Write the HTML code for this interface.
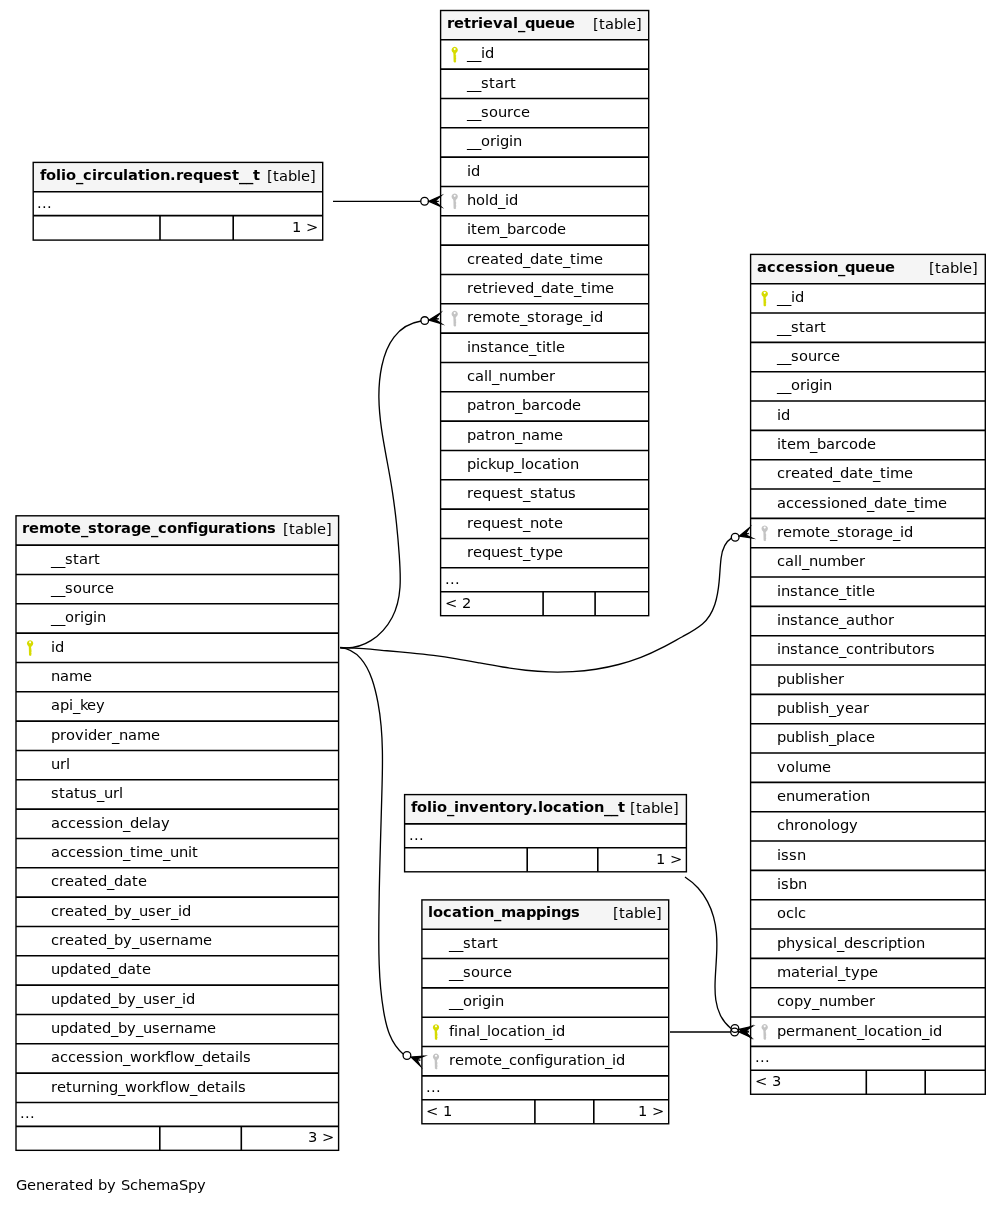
<!DOCTYPE html>
<html><head><meta charset="utf-8"><title>SchemaSpy diagram</title>
<style>
html,body{margin:0;padding:0;background:#fff}
svg{display:block;will-change:transform}
text{font-family:"DejaVu Sans","Liberation Sans",sans-serif;font-size:14.67px;fill:#000}
.b{font-weight:bold}
.e{text-anchor:end}
.sep{stroke:#000;stroke-width:1.6;fill:none}
.frame{stroke:#000;stroke-width:1.4;fill:none}
.edge{stroke:#000;stroke-width:1.33;fill:none}
</style></head><body>
<svg width="1001" height="1205" viewBox="0 0 1001 1205">
<rect width="1001" height="1205" fill="#fff"/>
<g class="tbl">
<rect x="440.6" y="10.5" width="208.1" height="605.19" fill="#fff" stroke="none"/>
<rect x="440.6" y="10.5" width="208.1" height="29.3" fill="#f5f5f5" stroke="none"/>
<path d="M440.6,39.8H648.7M440.6,69.13H648.7M440.6,98.47H648.7M440.6,127.8H648.7M440.6,157.13H648.7M440.6,186.46H648.7M440.6,215.8H648.7M440.6,245.13H648.7M440.6,274.46H648.7M440.6,303.8H648.7M440.6,333.13H648.7M440.6,362.46H648.7M440.6,391.8H648.7M440.6,421.13H648.7M440.6,450.46H648.7M440.6,479.8H648.7M440.6,509.13H648.7M440.6,538.46H648.7M440.6,567.79H648.7M440.6,591.69H648.7" class="sep"/>
<path d="M543.1,591.69V615.69M595.1,591.69V615.69" class="sep"/>
<rect x="440.6" y="10.5" width="208.1" height="605.19" class="frame"/>
<text x="447 454 464 471 478 483 493 503 513 518 525 535 545 555 565" y="27.9" class="b">retrieval<tspan dy="1">_</tspan><tspan dy="-1">queue</tspan></text>
<text x="593 599 605 614 623 627 636" y="28.9">[table]</text>
<g transform="translate(454.7,54.57)" fill="#d6db00"><path fill-rule="evenodd" d="M0,-7.7 a3.15,3.15 0 1,0 0.01,0 Z M0,-6.6 a1,1 0 1,1 -0.01,0 Z"/><path d="M-1.6,-2.2 L1.5,-2.2 L1.0,-0.6 L1.0,0.6 L1.7,1.1 L1.0,1.8 L1.7,2.5 L1.0,3.2 L1.7,3.9 L1.0,4.7 L1.7,5.5 L1.0,6.2 L1.5,7.1 L0.3,8.1 L-1.1,7.3 L-1.3,-0.6 Z"/></g>
<text x="467 474 481 485" y="58.3"><tspan dy="1">__</tspan><tspan dy="-1">id</tspan></text>
<text x="467 474 481 489 495 504 510" y="87.63"><tspan dy="1">__</tspan><tspan dy="-1">start</tspan></text>
<text x="467 474 481 489 498 507 513 521" y="116.97"><tspan dy="1">__</tspan><tspan dy="-1">source</tspan></text>
<text x="467 474 481 490 496 500 509 513" y="146.3"><tspan dy="1">__</tspan><tspan dy="-1">origin</tspan></text>
<text x="467 471" y="175.63">id</text>
<g transform="translate(454.7,201.23)" fill="#c4c4c4"><path fill-rule="evenodd" d="M0,-7.7 a3.15,3.15 0 1,0 0.01,0 Z M0,-6.6 a1,1 0 1,1 -0.01,0 Z"/><path d="M-1.6,-2.2 L1.5,-2.2 L1.0,-0.6 L1.0,0.6 L1.7,1.1 L1.0,1.8 L1.7,2.5 L1.0,3.2 L1.7,3.9 L1.0,4.7 L1.7,5.5 L1.0,6.2 L1.5,7.1 L0.3,8.1 L-1.1,7.3 L-1.3,-0.6 Z"/></g>
<text x="467 476 485 489 498 505 509" y="204.96">hold<tspan dy="1">_</tspan><tspan dy="-1">id</tspan></text>
<text x="467 471 477 486 500 507 516 525 531 539 548 557" y="234.3">item<tspan dy="1">_</tspan><tspan dy="-1">barcode</tspan></text>
<text x="467 475 481 490 499 505 514 523 530 539 548 554 563 570 576 580 594" y="263.63">created<tspan dy="1">_</tspan><tspan dy="-1">date</tspan><tspan dy="1">_</tspan><tspan dy="-1">time</tspan></text>
<text x="467 473 482 488 494 498 507 516 525 534 541 550 559 565 574 581 587 591 605" y="292.96">retrieved<tspan dy="1">_</tspan><tspan dy="-1">date</tspan><tspan dy="1">_</tspan><tspan dy="-1">time</tspan></text>
<g transform="translate(454.7,318.56)" fill="#c4c4c4"><path fill-rule="evenodd" d="M0,-7.7 a3.15,3.15 0 1,0 0.01,0 Z M0,-6.6 a1,1 0 1,1 -0.01,0 Z"/><path d="M-1.6,-2.2 L1.5,-2.2 L1.0,-0.6 L1.0,0.6 L1.7,1.1 L1.0,1.8 L1.7,2.5 L1.0,3.2 L1.7,3.9 L1.0,4.7 L1.7,5.5 L1.0,6.2 L1.5,7.1 L0.3,8.1 L-1.1,7.3 L-1.3,-0.6 Z"/></g>
<text x="467 473 482 496 505 511 520 527 535 541 550 556 565 574 583 590 594" y="322.3">remote<tspan dy="1">_</tspan><tspan dy="-1">storage</tspan><tspan dy="1">_</tspan><tspan dy="-1">id</tspan></text>
<text x="467 471 480 488 494 503 512 520 529 536 542 546 552 556" y="351.63">instance<tspan dy="1">_</tspan><tspan dy="-1">title</tspan></text>
<text x="467 475 484 488 492 499 508 517 531 540 549" y="380.96">call<tspan dy="1">_</tspan><tspan dy="-1">number</tspan></text>
<text x="467 476 485 491 497 506 515 522 531 540 546 554 563 572" y="410.3">patron<tspan dy="1">_</tspan><tspan dy="-1">barcode</tspan></text>
<text x="467 476 485 491 497 506 515 522 531 540 554" y="439.63">patron<tspan dy="1">_</tspan><tspan dy="-1">name</tspan></text>
<text x="467 476 480 488 496 505 514 521 525 534 542 551 557 561 570" y="468.96">pickup<tspan dy="1">_</tspan><tspan dy="-1">location</tspan></text>
<text x="467 473 482 491 500 509 517 523 530 538 544 553 559 568" y="498.3">request<tspan dy="1">_</tspan><tspan dy="-1">status</tspan></text>
<text x="467 473 482 491 500 509 517 523 530 539 548 554" y="527.63">request<tspan dy="1">_</tspan><tspan dy="-1">note</tspan></text>
<text x="467 473 482 491 500 509 517 523 530 536 545 554" y="556.96">request<tspan dy="1">_</tspan><tspan dy="-1">type</tspan></text>
<text x="445 450 455" y="583.79">...</text>
<text x="445 457 462" y="607.79">&lt; 2</text>
</g>
<g class="tbl">
<rect x="33.2" y="162.4" width="289.5" height="77.7" fill="#fff" stroke="none"/>
<rect x="33.2" y="162.4" width="289.5" height="29.3" fill="#f5f5f5" stroke="none"/>
<path d="M33.2,191.7H322.7M33.2,215.6H322.7" class="sep"/>
<path d="M160,215.6V240.1M233.2,215.6V240.1" class="sep"/>
<rect x="33.2" y="162.4" width="289.5" height="77.7" class="frame"/>
<text x="40 46 56 61 66 76 83 92 97 104 113 123 128 138 145 150 160 170 176 183 193 203 213 223 232 239 246 253" y="179.8" class="b">folio<tspan dy="1">_</tspan><tspan dy="-1">circulation.request</tspan><tspan dy="1">__</tspan><tspan dy="-1">t</tspan></text>
<text x="267 273 279 288 297 301 310" y="180.8">[table]</text>
<text x="37 42 47" y="207.7">...</text>
<text x="292 301 306" y="232.2">1 &gt;</text>
</g>
<g class="tbl">
<rect x="16" y="515.8" width="322.6" height="634.53" fill="#fff" stroke="none"/>
<rect x="16" y="515.8" width="322.6" height="29.3" fill="#f5f5f5" stroke="none"/>
<path d="M16,545.1H338.6M16,574.43H338.6M16,603.77H338.6M16,633.1H338.6M16,662.43H338.6M16,691.76H338.6M16,721.1H338.6M16,750.43H338.6M16,779.76H338.6M16,809.1H338.6M16,838.43H338.6M16,867.76H338.6M16,897.1H338.6M16,926.43H338.6M16,955.76H338.6M16,985.09H338.6M16,1014.43H338.6M16,1043.76H338.6M16,1073.09H338.6M16,1102.43H338.6M16,1126.33H338.6" class="sep"/>
<path d="M159.8,1126.33V1150.33M241.3,1126.33V1150.33" class="sep"/>
<rect x="16" y="515.8" width="322.6" height="634.53" class="frame"/>
<text x="22 29 39 54 64 71 81 88 97 104 114 121 131 141 151 158 167 177 187 193 198 208 218 225 235 242 247 257 267" y="533.2" class="b">remote<tspan dy="1">_</tspan><tspan dy="-1">storage</tspan><tspan dy="1">_</tspan><tspan dy="-1">configurations</tspan></text>
<text x="283 289 295 304 313 317 326" y="534.2">[table]</text>
<text x="51 58 65 73 79 88 94" y="563.6"><tspan dy="1">__</tspan><tspan dy="-1">start</tspan></text>
<text x="51 58 65 73 82 91 97 105" y="592.93"><tspan dy="1">__</tspan><tspan dy="-1">source</tspan></text>
<text x="51 58 65 74 80 84 93 97" y="622.27"><tspan dy="1">__</tspan><tspan dy="-1">origin</tspan></text>
<g transform="translate(30.1,647.87)" fill="#d6db00"><path fill-rule="evenodd" d="M0,-7.7 a3.15,3.15 0 1,0 0.01,0 Z M0,-6.6 a1,1 0 1,1 -0.01,0 Z"/><path d="M-1.6,-2.2 L1.5,-2.2 L1.0,-0.6 L1.0,0.6 L1.7,1.1 L1.0,1.8 L1.7,2.5 L1.0,3.2 L1.7,3.9 L1.0,4.7 L1.7,5.5 L1.0,6.2 L1.5,7.1 L0.3,8.1 L-1.1,7.3 L-1.3,-0.6 Z"/></g>
<text x="51 55" y="651.6">id</text>
<text x="51 60 69 83" y="680.93">name</text>
<text x="51 60 69 73 80 87 96" y="710.26">api<tspan dy="1">_</tspan><tspan dy="-1">key</tspan></text>
<text x="51 60 66 75 84 88 97 106 112 119 128 137 151" y="739.6">provider<tspan dy="1">_</tspan><tspan dy="-1">name</tspan></text>
<text x="51 60 66" y="768.93">url</text>
<text x="51 59 65 74 80 89 97 104 113 119" y="798.26">status<tspan dy="1">_</tspan><tspan dy="-1">url</tspan></text>
<text x="51 60 68 76 85 93 101 105 114 123 130 139 148 152 161" y="827.6">accession<tspan dy="1">_</tspan><tspan dy="-1">delay</tspan></text>
<text x="51 60 68 76 85 93 101 105 114 123 130 136 140 154 163 170 179 188 192" y="856.93">accession<tspan dy="1">_</tspan><tspan dy="-1">time</tspan><tspan dy="1">_</tspan><tspan dy="-1">unit</tspan></text>
<text x="51 59 65 74 83 89 98 107 114 123 132 138" y="886.26">created<tspan dy="1">_</tspan><tspan dy="-1">date</tspan></text>
<text x="51 59 65 74 83 89 98 107 114 123 132 139 148 156 165 171 178 182" y="915.6">created<tspan dy="1">_</tspan><tspan dy="-1">by</tspan><tspan dy="1">_</tspan><tspan dy="-1">user</tspan><tspan dy="1">_</tspan><tspan dy="-1">id</tspan></text>
<text x="51 59 65 74 83 89 98 107 114 123 132 139 148 156 165 171 180 189 203" y="944.93">created<tspan dy="1">_</tspan><tspan dy="-1">by</tspan><tspan dy="1">_</tspan><tspan dy="-1">username</tspan></text>
<text x="51 60 69 78 87 93 102 111 118 127 136 142" y="974.26">updated<tspan dy="1">_</tspan><tspan dy="-1">date</tspan></text>
<text x="51 60 69 78 87 93 102 111 118 127 136 143 152 160 169 175 182 186" y="1003.59">updated<tspan dy="1">_</tspan><tspan dy="-1">by</tspan><tspan dy="1">_</tspan><tspan dy="-1">user</tspan><tspan dy="1">_</tspan><tspan dy="-1">id</tspan></text>
<text x="51 60 69 78 87 93 102 111 118 127 136 143 152 160 169 175 184 193 207" y="1032.93">updated<tspan dy="1">_</tspan><tspan dy="-1">by</tspan><tspan dy="1">_</tspan><tspan dy="-1">username</tspan></text>
<text x="51 60 68 76 85 93 101 105 114 123 130 142 151 157 165 170 174 183 195 202 211 220 226 235 239 243" y="1062.26">accession<tspan dy="1">_</tspan><tspan dy="-1">workflow</tspan><tspan dy="1">_</tspan><tspan dy="-1">details</tspan></text>
<text x="51 57 66 72 81 87 96 100 109 118 125 137 146 152 160 165 169 178 190 197 206 215 221 230 234 238" y="1091.59">returning<tspan dy="1">_</tspan><tspan dy="-1">workflow</tspan><tspan dy="1">_</tspan><tspan dy="-1">details</tspan></text>
<text x="20 25 30" y="1118.43">...</text>
<text x="308 317 322" y="1142.43">3 &gt;</text>
</g>
<g class="tbl">
<rect x="750.6" y="254.4" width="234.7" height="839.86" fill="#fff" stroke="none"/>
<rect x="750.6" y="254.4" width="234.7" height="29.3" fill="#f5f5f5" stroke="none"/>
<path d="M750.6,283.7H985.3M750.6,313.03H985.3M750.6,342.37H985.3M750.6,371.7H985.3M750.6,401.03H985.3M750.6,430.37H985.3M750.6,459.7H985.3M750.6,489.03H985.3M750.6,518.36H985.3M750.6,547.7H985.3M750.6,577.03H985.3M750.6,606.36H985.3M750.6,635.7H985.3M750.6,665.03H985.3M750.6,694.36H985.3M750.6,723.69H985.3M750.6,753.03H985.3M750.6,782.36H985.3M750.6,811.69H985.3M750.6,841.03H985.3M750.6,870.36H985.3M750.6,899.69H985.3M750.6,929.03H985.3M750.6,958.36H985.3M750.6,987.69H985.3M750.6,1017.02H985.3M750.6,1046.36H985.3M750.6,1070.26H985.3" class="sep"/>
<path d="M866.3,1070.26V1094.26M925.2,1070.26V1094.26" class="sep"/>
<rect x="750.6" y="254.4" width="234.7" height="839.86" class="frame"/>
<text x="757 767 776 785 795 804 813 818 828 838 845 855 865 875 885" y="271.8" class="b">accession<tspan dy="1">_</tspan><tspan dy="-1">queue</tspan></text>
<text x="929 935 941 950 959 963 972" y="272.8">[table]</text>
<g transform="translate(764.7,298.47)" fill="#d6db00"><path fill-rule="evenodd" d="M0,-7.7 a3.15,3.15 0 1,0 0.01,0 Z M0,-6.6 a1,1 0 1,1 -0.01,0 Z"/><path d="M-1.6,-2.2 L1.5,-2.2 L1.0,-0.6 L1.0,0.6 L1.7,1.1 L1.0,1.8 L1.7,2.5 L1.0,3.2 L1.7,3.9 L1.0,4.7 L1.7,5.5 L1.0,6.2 L1.5,7.1 L0.3,8.1 L-1.1,7.3 L-1.3,-0.6 Z"/></g>
<text x="777 784 791 795" y="302.2"><tspan dy="1">__</tspan><tspan dy="-1">id</tspan></text>
<text x="777 784 791 799 805 814 820" y="331.53"><tspan dy="1">__</tspan><tspan dy="-1">start</tspan></text>
<text x="777 784 791 799 808 817 823 831" y="360.87"><tspan dy="1">__</tspan><tspan dy="-1">source</tspan></text>
<text x="777 784 791 800 806 810 819 823" y="390.2"><tspan dy="1">__</tspan><tspan dy="-1">origin</tspan></text>
<text x="777 781" y="419.53">id</text>
<text x="777 781 787 796 810 817 826 835 841 849 858 867" y="448.87">item<tspan dy="1">_</tspan><tspan dy="-1">barcode</tspan></text>
<text x="777 785 791 800 809 815 824 833 840 849 858 864 873 880 886 890 904" y="478.2">created<tspan dy="1">_</tspan><tspan dy="-1">date</tspan><tspan dy="1">_</tspan><tspan dy="-1">time</tspan></text>
<text x="777 786 794 802 811 819 827 831 840 849 858 867 874 883 892 898 907 914 920 924 938" y="507.53">accessioned<tspan dy="1">_</tspan><tspan dy="-1">date</tspan><tspan dy="1">_</tspan><tspan dy="-1">time</tspan></text>
<g transform="translate(764.7,533.13)" fill="#c4c4c4"><path fill-rule="evenodd" d="M0,-7.7 a3.15,3.15 0 1,0 0.01,0 Z M0,-6.6 a1,1 0 1,1 -0.01,0 Z"/><path d="M-1.6,-2.2 L1.5,-2.2 L1.0,-0.6 L1.0,0.6 L1.7,1.1 L1.0,1.8 L1.7,2.5 L1.0,3.2 L1.7,3.9 L1.0,4.7 L1.7,5.5 L1.0,6.2 L1.5,7.1 L0.3,8.1 L-1.1,7.3 L-1.3,-0.6 Z"/></g>
<text x="777 783 792 806 815 821 830 837 845 851 860 866 875 884 893 900 904" y="536.86">remote<tspan dy="1">_</tspan><tspan dy="-1">storage</tspan><tspan dy="1">_</tspan><tspan dy="-1">id</tspan></text>
<text x="777 785 794 798 802 809 818 827 841 850 859" y="566.2">call<tspan dy="1">_</tspan><tspan dy="-1">number</tspan></text>
<text x="777 781 790 798 804 813 822 830 839 846 852 856 862 866" y="595.53">instance<tspan dy="1">_</tspan><tspan dy="-1">title</tspan></text>
<text x="777 781 790 798 804 813 822 830 839 846 855 864 870 879 888" y="624.86">instance<tspan dy="1">_</tspan><tspan dy="-1">author</tspan></text>
<text x="777 781 790 798 804 813 822 830 839 846 854 863 872 878 884 888 897 906 912 921 927" y="654.2">instance<tspan dy="1">_</tspan><tspan dy="-1">contributors</tspan></text>
<text x="777 786 795 804 808 812 820 829 838" y="683.53">publisher</text>
<text x="777 786 795 804 808 812 820 829 836 845 854 863" y="712.86">publish<tspan dy="1">_</tspan><tspan dy="-1">year</tspan></text>
<text x="777 786 795 804 808 812 820 829 836 845 849 858 866" y="742.19">publish<tspan dy="1">_</tspan><tspan dy="-1">place</tspan></text>
<text x="777 786 795 799 808 822" y="771.53">volume</text>
<text x="777 786 795 804 818 827 833 842 848 852 861" y="800.86">enumeration</text>
<text x="777 785 794 800 809 818 827 831 840 849" y="830.19">chronology</text>
<text x="777 781 789 797" y="859.53">issn</text>
<text x="777 781 789 798" y="888.86">isbn</text>
<text x="777 786 794 798" y="918.19">oclc</text>
<text x="777 786 795 804 812 816 824 833 837 844 853 862 870 878 884 888 897 903 907 916" y="947.53">physical<tspan dy="1">_</tspan><tspan dy="-1">description</tspan></text>
<text x="777 791 800 806 815 821 825 834 838 845 851 860 869" y="976.86">material<tspan dy="1">_</tspan><tspan dy="-1">type</tspan></text>
<text x="777 785 794 803 812 819 828 837 851 860 869" y="1006.19">copy<tspan dy="1">_</tspan><tspan dy="-1">number</tspan></text>
<g transform="translate(764.7,1031.79)" fill="#c4c4c4"><path fill-rule="evenodd" d="M0,-7.7 a3.15,3.15 0 1,0 0.01,0 Z M0,-6.6 a1,1 0 1,1 -0.01,0 Z"/><path d="M-1.6,-2.2 L1.5,-2.2 L1.0,-0.6 L1.0,0.6 L1.7,1.1 L1.0,1.8 L1.7,2.5 L1.0,3.2 L1.7,3.9 L1.0,4.7 L1.7,5.5 L1.0,6.2 L1.5,7.1 L0.3,8.1 L-1.1,7.3 L-1.3,-0.6 Z"/></g>
<text x="777 786 795 801 815 824 833 842 851 857 864 868 877 885 894 900 904 913 922 929 933" y="1035.52">permanent<tspan dy="1">_</tspan><tspan dy="-1">location</tspan><tspan dy="1">_</tspan><tspan dy="-1">id</tspan></text>
<text x="755 760 765" y="1062.36">...</text>
<text x="755 767 772" y="1086.36">&lt; 3</text>
</g>
<g class="tbl">
<rect x="404.6" y="794.6" width="281.8" height="77.2" fill="#fff" stroke="none"/>
<rect x="404.6" y="794.6" width="281.8" height="29.3" fill="#f5f5f5" stroke="none"/>
<path d="M404.6,823.9H686.4M404.6,847.8H686.4" class="sep"/>
<path d="M527.2,847.8V871.8M597.8,847.8V871.8" class="sep"/>
<rect x="404.6" y="794.6" width="281.8" height="77.2" class="frame"/>
<text x="411 417 427 432 437 447 454 459 469 479 489 499 506 516 523 532 538 543 553 562 572 579 584 594 604 611 618" y="812" class="b">folio<tspan dy="1">_</tspan><tspan dy="-1">inventory.location</tspan><tspan dy="1">__</tspan><tspan dy="-1">t</tspan></text>
<text x="630 636 642 651 660 664 673" y="813">[table]</text>
<text x="409 414 419" y="839.9">...</text>
<text x="656 665 670" y="863.9">1 &gt;</text>
</g>
<g class="tbl">
<rect x="421.9" y="899.9" width="246.8" height="223.87" fill="#fff" stroke="none"/>
<rect x="421.9" y="899.9" width="246.8" height="29.3" fill="#f5f5f5" stroke="none"/>
<path d="M421.9,929.2H668.7M421.9,958.53H668.7M421.9,987.87H668.7M421.9,1017.2H668.7M421.9,1046.53H668.7M421.9,1075.87H668.7M421.9,1099.77H668.7" class="sep"/>
<path d="M534.9,1099.77V1123.77M593.8,1099.77V1123.77" class="sep"/>
<rect x="421.9" y="899.9" width="246.8" height="223.87" class="frame"/>
<text x="428 433 443 452 462 469 474 484 494 501 516 526 536 546 551 561 571" y="917.3" class="b">location<tspan dy="1">_</tspan><tspan dy="-1">mappings</tspan></text>
<text x="613 619 625 634 643 647 656" y="918.3">[table]</text>
<text x="449 456 463 471 477 486 492" y="947.7"><tspan dy="1">__</tspan><tspan dy="-1">start</tspan></text>
<text x="449 456 463 471 480 489 495 503" y="977.03"><tspan dy="1">__</tspan><tspan dy="-1">source</tspan></text>
<text x="449 456 463 472 478 482 491 495" y="1006.37"><tspan dy="1">__</tspan><tspan dy="-1">origin</tspan></text>
<g transform="translate(436,1031.97)" fill="#d6db00"><path fill-rule="evenodd" d="M0,-7.7 a3.15,3.15 0 1,0 0.01,0 Z M0,-6.6 a1,1 0 1,1 -0.01,0 Z"/><path d="M-1.6,-2.2 L1.5,-2.2 L1.0,-0.6 L1.0,0.6 L1.7,1.1 L1.0,1.8 L1.7,2.5 L1.0,3.2 L1.7,3.9 L1.0,4.7 L1.7,5.5 L1.0,6.2 L1.5,7.1 L0.3,8.1 L-1.1,7.3 L-1.3,-0.6 Z"/></g>
<text x="449 454 458 467 476 480 487 491 500 508 517 523 527 536 545 552 556" y="1035.7">final<tspan dy="1">_</tspan><tspan dy="-1">location</tspan><tspan dy="1">_</tspan><tspan dy="-1">id</tspan></text>
<g transform="translate(436,1061.3)" fill="#c4c4c4"><path fill-rule="evenodd" d="M0,-7.7 a3.15,3.15 0 1,0 0.01,0 Z M0,-6.6 a1,1 0 1,1 -0.01,0 Z"/><path d="M-1.6,-2.2 L1.5,-2.2 L1.0,-0.6 L1.0,0.6 L1.7,1.1 L1.0,1.8 L1.7,2.5 L1.0,3.2 L1.7,3.9 L1.0,4.7 L1.7,5.5 L1.0,6.2 L1.5,7.1 L0.3,8.1 L-1.1,7.3 L-1.3,-0.6 Z"/></g>
<text x="449 455 464 478 487 493 502 509 517 526 535 540 544 553 562 568 577 583 587 596 605 612 616" y="1065.03">remote<tspan dy="1">_</tspan><tspan dy="-1">configuration</tspan><tspan dy="1">_</tspan><tspan dy="-1">id</tspan></text>
<text x="426 431 436" y="1091.87">...</text>
<text x="426 438 443" y="1115.87">&lt; 1</text>
<text x="638 647 652" y="1115.87">1 &gt;</text>
</g>
<path d="M333,201.3H420.75" class="edge"/><path d="M429,201.3L440.6,206.5L434.8,201.3L438.8,201.3L434.8,201.3L440.6,196.1L429,201.3Z" fill="#000" stroke="#000" stroke-width="1.33" stroke-linejoin="miter" stroke-miterlimit="10"/><circle cx="424.6" cy="201.3" r="3.85" fill="none" stroke="#000" stroke-width="1.33"/>
<path d="M670,1032H730.75" class="edge"/><path d="M739,1032L750.6,1037.2L744.8,1032L748.8,1032L744.8,1032L750.6,1026.8L739,1032Z" fill="#000" stroke="#000" stroke-width="1.33" stroke-linejoin="miter" stroke-miterlimit="10"/><circle cx="734.6" cy="1032" r="3.85" fill="none" stroke="#000" stroke-width="1.33"/>
<path d="M340.07,647.5C351.39,649.02 361.93,646.19 370.89,640.64C379.84,635.09 387.19,626.81 392.12,617.45C397.05,608.09 399.28,597.78 399.99,587.18C400.7,576.58 399.98,565.66 399.23,554.96C398.47,544.26 397.56,533.73 396.45,523.28C395.34,512.83 394.02,502.45 392.45,492.06C390.87,481.66 388.97,471.23 387,460.75C385.04,450.26 383.07,439.73 381.56,429.19C380.05,418.65 379.01,408.09 378.89,397.55C378.78,387.01 379.59,376.48 381.81,366C384.03,355.53 387.7,345.22 394.03,337.05C400.37,328.88 409.77,322.81 421.19,321.03" class="edge"/><path d="M429.1,319.99L441.27,323.66L434.85,319.25L438.81,318.73L434.85,319.25L439.93,313.34L429.1,319.99Z" fill="#000" stroke="#000" stroke-width="1.33" stroke-linejoin="miter" stroke-miterlimit="10"/><circle cx="424.73" cy="320.56" r="3.85" fill="none" stroke="#000" stroke-width="1.33"/>
<path d="M340.3,647.94C348.14,647.67 355.92,648.03 363.68,648.62C371.45,649.22 379.19,650.04 386.95,650.76C394.71,651.48 402.48,652.15 410.24,652.88C418,653.62 425.76,654.41 433.49,655.38C441.22,656.35 448.93,657.52 456.62,658.83C464.31,660.13 471.98,661.55 479.66,662.96C487.34,664.37 495.01,665.76 502.7,667.02C510.4,668.28 518.11,669.4 525.85,670.26C533.59,671.12 541.37,671.7 549.17,671.94C556.97,672.18 564.78,672.09 572.57,671.65C580.36,671.2 588.13,670.4 595.82,669.22C603.52,668.04 611.15,666.48 618.68,664.51C626.2,662.55 633.62,660.18 640.89,657.38C648.16,654.59 655.27,651.33 662.22,647.7C669.17,644.07 676,640.18 682.83,636.46C689.65,632.74 696.49,629.01 702.44,623.93C708.38,618.85 712.39,611.74 714.83,604.42C717.27,597.09 718.39,589.44 719.13,581.64C719.87,573.84 720.13,565.83 721.11,557.98C722.09,550.13 724.15,542.7 731.4,538.12" class="edge"/><path d="M739.41,536.07L751.98,538.01L745.01,534.54L748.86,533.48L745.01,534.54L749.22,527.99L739.41,536.07Z" fill="#000" stroke="#000" stroke-width="1.33" stroke-linejoin="miter" stroke-miterlimit="10"/><circle cx="735.17" cy="537.24" r="3.85" fill="none" stroke="#000" stroke-width="1.33"/>
<path d="M340.14,647.65C348.97,648.4 355.68,652.73 360.79,658.58C365.9,664.42 369.39,671.62 372.01,679.23C374.63,686.83 376.47,694.74 377.95,702.58C379.42,710.43 380.44,718.3 381.14,726.2C381.84,734.09 382.21,742.01 382.37,749.94C382.53,757.87 382.47,765.81 382.33,773.75C382.19,781.7 381.96,789.64 381.74,797.59C381.53,805.53 381.3,813.47 381.07,821.41C380.84,829.35 380.61,837.29 380.39,845.23C380.16,853.17 379.95,861.11 379.76,869.05C379.56,876.99 379.39,884.94 379.24,892.88C379.09,900.82 378.98,908.77 378.89,916.72C378.81,924.67 378.76,932.62 378.78,940.57C378.8,948.53 378.9,956.48 379.19,964.42C379.47,972.36 379.93,980.28 380.66,988.19C381.38,996.09 382.38,1003.98 383.73,1011.83C385.08,1019.67 386.75,1027.52 389.7,1034.79C392.65,1042.06 396.89,1048.74 403.39,1054.27" class="edge"/><path d="M411.09,1057.05L420.23,1065.89L416.55,1059.02L420.31,1060.39L416.55,1059.02L423.77,1056.11L411.09,1057.05Z" fill="#000" stroke="#000" stroke-width="1.33" stroke-linejoin="miter" stroke-miterlimit="10"/><circle cx="406.96" cy="1055.55" r="3.85" fill="none" stroke="#000" stroke-width="1.33"/>
<path d="M684.98,876.95C689.98,880.17 694.34,883.92 698.08,888.07C701.82,892.22 704.95,896.77 707.52,901.61C710.08,906.44 712.08,911.55 713.54,916.82C715.01,922.1 715.93,927.52 716.41,933C716.89,938.48 716.95,944.03 716.8,949.63C716.65,955.23 716.29,960.87 715.93,966.52C715.57,972.17 715.19,977.85 715.06,983.48C714.92,989.1 715.06,994.66 715.82,1000.01C716.59,1005.36 717.99,1010.5 720.38,1015.29C722.77,1020.07 726.15,1024.5 730.89,1028.43" class="edge"/><path d="M739.23,1029.41L749.58,1036.8L744.91,1030.56L748.84,1031.35L744.91,1030.56L751.62,1026.6L739.23,1029.41Z" fill="#000" stroke="#000" stroke-width="1.33" stroke-linejoin="miter" stroke-miterlimit="10"/><circle cx="734.91" cy="1028.55" r="3.85" fill="none" stroke="#000" stroke-width="1.33"/>
<text x="16 27 36 45 54 60 69 75 84 93 98 107 116 121 130 138 147 156 170 179 188 197" y="1189.5">Generated by SchemaSpy</text>
</svg>
</body></html>
